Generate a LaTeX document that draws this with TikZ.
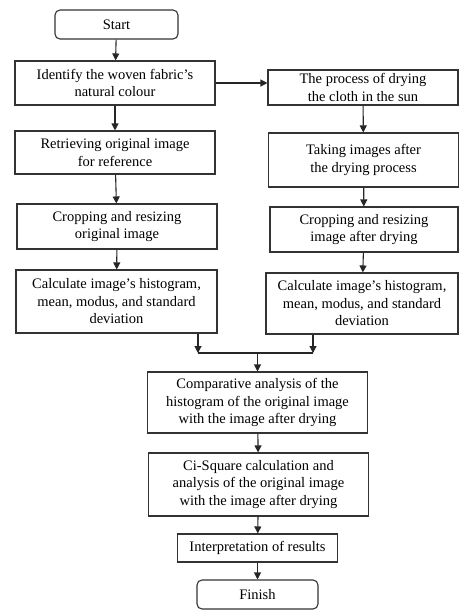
\documentclass[tikz,border=0pt]{standalone}
\usepackage{fontspec}
\setmainfont{Liberation Serif}
\usetikzlibrary{arrows.meta}

\tikzset{
procbox/.style={draw=black!80,rectangle,line width=1.1pt,
inner sep=2pt,align=center,fill=white,
font=\fontsize{14.5}{17.5}\selectfont},
termbox/.style={procbox,rounded corners=5pt},
flowarrow/.style={->,line width=1.1pt,draw=black!85}
}

\begin{document}
\begin{tikzpicture}[x=1pt,y=-1pt,>={Triangle[length=7pt,width=7pt]}]
\useasboundingbox (0,0) rectangle (459,611);

\node[termbox,
minimum width=123pt,minimum height=29pt](start) at (116.5,24.5){Start};

\node[procbox,
minimum width=200pt,minimum height=44pt](identify) at (115,83){Identify the woven fabric's\\natural colour};

\node[procbox,
minimum width=190pt,minimum height=35pt](drying) at (363,87.5){The process of drying\\the cloth in the sun};

\node[procbox,
minimum width=200pt,minimum height=43pt](retrieve) at (115,152.5){Retrieving original image\\for reference};

\node[procbox,
minimum width=190pt,minimum height=54pt](taking) at (363.5,160){Taking images after\\the drying process};

\node[procbox,
minimum width=200pt,minimum height=45pt](cropori) at (117,226.5){Cropping and resizing\\original image};

\node[procbox,
minimum width=188pt,minimum height=45pt](cropdry) at (364,229.5){Cropping and resizing\\image after drying};

\node[procbox,
minimum width=201pt,minimum height=63pt](calcori) at (116.5,301.5){Calculate image's histogram,\\mean, modus, and standard\\deviation};

\node[procbox,
minimum width=192pt,minimum height=61pt](calcdry) at (362,303.5){Calculate image's histogram,\\mean, modus, and standard\\deviation};

\coordinate (joinl) at (198,353);
\coordinate (joinr) at (313,353);
\coordinate (joinm) at (257.5,353);

\node[procbox,
minimum width=220pt,minimum height=61pt](compare) at (257.5,402.5){Comparative analysis of the\\histogram of the original image\\with the image after drying};

\node[procbox,
minimum width=220pt,minimum height=63pt](chisq) at (258.5,484.5){Ci-Square calculation and\\analysis of the original image\\with the image after drying};

\node[procbox,
minimum width=160pt,minimum height=28pt](interp) at (257.5,548){Interpretation of results};

\node[termbox,
minimum width=121pt,minimum height=29pt](finish) at (257.5,594.5){Finish};

\draw [flowarrow] (start) to (identify);
\draw [flowarrow] (identify) to (retrieve);
\draw [flowarrow] (retrieve) to (cropori);
\draw [flowarrow] (cropori) to (calcori);
\draw [flowarrow] (identify.east) to (identify.east -| drying.west);
\draw [flowarrow] (drying) to (taking);
\draw [flowarrow] (taking) to (cropdry);
\draw [flowarrow] (cropdry) to (calcdry);
\draw [flowarrow] (calcori.south -| joinl) to (joinl);
\draw [flowarrow] (calcdry.south -| joinr) to (joinr);
\draw [line width=1.1pt,draw=black!85] (joinl) -- (joinr);
\draw [flowarrow] (joinm) to (compare.north);
\draw [flowarrow] (compare) to (chisq);
\draw [flowarrow] (chisq) to (interp);
\draw [flowarrow] (interp) to (finish);
\end{tikzpicture}
\end{document}
